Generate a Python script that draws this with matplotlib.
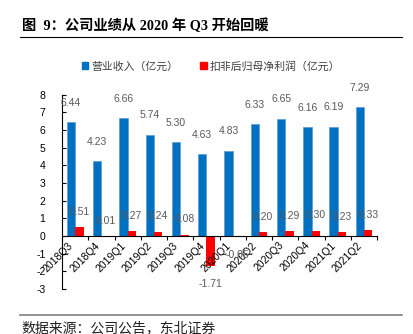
import matplotlib
matplotlib.use("Agg")
import matplotlib.pyplot as plt
import numpy as np
from matplotlib.patches import Patch
from matplotlib.lines import Line2D

quarters = ['2018Q3', '2018Q4', '2019Q1', '2019Q2', '2019Q3', '2019Q4',
            '2020Q1', '2020Q2', '2020Q3', '2020Q4', '2021Q1', '2021Q2']
revenue = [6.44, 4.23, 6.66, 5.74, 5.30, 4.63, 4.83, 6.33, 6.65, 6.16, 6.19, 7.29]
profit = [0.51, 0.01, 0.27, 0.24, 0.08, -1.71, -0.05, 0.20, 0.29, 0.30, 0.23, 0.33]
yticks = [-3, -2, -1, 0, 1, 2, 3, 4, 5, 6, 7, 8]

blue = '#0070C0'
red = '#FF0000'
gray = '#595959'
cjk = ['Noto Sans CJK SC', 'DejaVu Sans']
num = ['Liberation Sans', 'DejaVu Sans']

fig = plt.figure(figsize=(4.14, 3.34), dpi=100)
ax = fig.add_axes([0.150, 0.135, 0.761, 0.581])

x = np.arange(len(quarters))
w = 0.32
ax.bar(x - w / 2, revenue, w, color=blue, edgecolor='#5B9BD5', linewidth=0.5)
ax.bar(x + w / 2, profit, w, color=red)

# 数据标签
for i, v in enumerate(revenue):
    ax.annotate(f'{v:.2f}', (x[i] - w / 2, v), xytext=(0, 14), textcoords='offset points',
                ha='center', va='center', fontsize=7.5, color=gray, family=num)
for i, v in enumerate(profit):
    off = 11 if v >= 0 else -13
    ax.annotate(f'{v:.2f}', (x[i] + w / 2, v), xytext=(0, off), textcoords='offset points',
                ha='center', va='center', fontsize=7.5, color=gray, family=num)

ax.set_xlim(-0.5, len(quarters) - 0.5)
ax.set_ylim(-3, 8)
ax.set_yticks(yticks)
ax.set_yticklabels([str(t) for t in yticks], family=num, fontsize=7.5)
ax.tick_params(axis='y', direction='in', length=3, pad=12, width=0.8)

ax.spines['top'].set_visible(False)
ax.spines['right'].set_visible(False)
ax.spines['bottom'].set_position(('data', 0))
ax.spines['left'].set_linewidth(0.8)
ax.spines['bottom'].set_linewidth(0.8)

ax.set_xticks(x)
ax.set_xticklabels(quarters, rotation=45, ha='right', va='top', family=num, fontsize=7.5)
ax.set_xticks(np.arange(len(quarters) + 1) - 0.5, minor=True)
ax.tick_params(axis='x', which='major', length=0, pad=3)
ax.tick_params(axis='x', which='minor', direction='out', length=3, width=0.8)

# 图例
handles = [Patch(color=blue), Patch(color=red)]
fig.legend(handles, ['营业收入（亿元）', '扣非后归母净利润（亿元）'], loc='center',
           bbox_to_anchor=(0.51, 0.802), ncol=2, frameon=False,
           prop={'family': cjk, 'size': 7.8}, handlelength=0.6, handleheight=0.6,
           handletextpad=0.3, columnspacing=2.0, labelcolor='#404040')

# 标题与来源
fig.text(0.053, 0.922, '图  9：公司业绩从 2020 年 Q3 开始回暖', fontsize=10.3, fontweight='bold',
         family=['Liberation Serif', 'Noto Sans CJK SC'], va='center', ha='left')
fig.add_artist(Line2D([0.048, 0.971], [0.889, 0.889], color='black', linewidth=0.8))
fig.add_artist(Line2D([0.048, 0.971], [0.057, 0.057], color='#808080', linewidth=1.2))
fig.text(0.053, 0.018, '数据来源：公司公告，东北证券', fontsize=10, family=cjk, va='center', ha='left',
         color='#202020')

fig.savefig('out.png', dpi=100)
